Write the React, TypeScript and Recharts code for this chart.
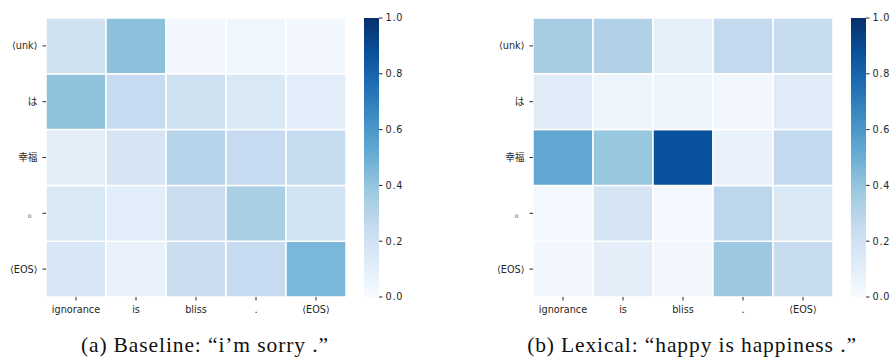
import { BarChart, Bar, Cell, XAxis, YAxis } from 'recharts';

const cols = ['ignorance', 'is', 'bliss', '.', '⟨EOS⟩'];
const rows = ['⟨unk⟩', 'は', '幸福', '。', '⟨EOS⟩'];

// attention weights, rows x cols
const baseline = [
    [0.2, 0.42, 0.03, 0.04, 0.03],
    [0.41, 0.25, 0.2, 0.15, 0.11],
    [0.1, 0.17, 0.3, 0.25, 0.24],
    [0.15, 0.11, 0.23, 0.34, 0.19],
    [0.16, 0.07, 0.23, 0.25, 0.46],
];
const lexical = [
    [0.35, 0.32, 0.09, 0.26, 0.24],
    [0.12, 0.05, 0.05, 0.03, 0.12],
    [0.53, 0.39, 0.87, 0.07, 0.26],
    [0.02, 0.17, 0.02, 0.28, 0.15],
    [0.03, 0.1, 0.03, 0.38, 0.24],
];
const rowTicks = [0.5, 1.5, 2.5, 3.5, 4.5];
const barTicks = [0, 0.2, 0.4, 0.6, 0.8, 1.0];

// matplotlib "Blues"
const blues = ['#f7fbff', '#deebf7', '#c6dbef', '#9ecae1', '#6baed6', '#4292c6', '#2171b5', '#08519c', '#08306b'];

function hex(c: string) {
    return [1, 3, 5].map((i) => parseInt(c.slice(i, i + 2), 16));
}

function blueAt(v: number) {
    const t = Math.max(0, Math.min(1, v)) * (blues.length - 1);
    const i = Math.min(Math.floor(t), blues.length - 2);
    const f = t - i;
    const a = hex(blues[i]);
    const b = hex(blues[i + 1]);
    const m = a.map((x, k) => Math.round(x + (b[k] - x) * f));
    return `rgb(${m[0]},${m[1]},${m[2]})`;
}

const FONT = '"DejaVu Sans", "Noto Sans CJK JP", sans-serif';
const tickFont = { fontFamily: FONT, fontSize: 9.7, fill: '#262626' };
const tickLine = { stroke: '#262626', strokeWidth: 1 };

function Heatmap({ matrix, left }: { matrix: number[][]; left: number }) {
    const data = cols.map((c) => {
        const d: Record<string, string | number> = { col: c };
        rows.forEach((_, i) => (d['r' + i] = 1));
        return d;
    });
    const order = [4, 3, 2, 1, 0];
    return (
        <div style={{ position: 'absolute', left, top: 0 }}>
            <BarChart width={360} height={320} data={data} margin={{ top: 18, right: 14, bottom: 0, left: 0 }} barCategoryGap={0}>
                <XAxis
                    dataKey="col"
                    height={23}
                    axisLine={false}
                    tickSize={3.5}
                    tickMargin={6}
                    tickLine={tickLine}
                    tick={tickFont}
                    interval={0}
                />
                <YAxis
                    type="number"
                    domain={[0, 5]}
                    ticks={rowTicks}
                    width={46}
                    axisLine={false}
                    tickSize={3.5}
                    tickMargin={5}
                    tickLine={tickLine}
                    tick={tickFont}
                    tickFormatter={(v: number) => rows[4 - Math.floor(v)]}
                    interval={0}
                />
                {order.map((i) => (
                    <Bar key={i} dataKey={'r' + i} stackId="cells" isAnimationActive={false} stroke="#fff" strokeWidth={1.5}>
                        {cols.map((c, j) => (
                            <Cell key={c} fill={blueAt(matrix[i][j])} />
                        ))}
                    </Bar>
                ))}
            </BarChart>
        </div>
    );
}

function Colorbar({ left, id }: { left: number; id: string }) {
    return (
        <div style={{ position: 'absolute', left, top: 0 }}>
            <BarChart width={55} height={315} data={[{ k: 'c', v: 1 }]} margin={{ top: 18, right: 0, bottom: 18, left: 0 }} barCategoryGap={0}>
                <defs>
                    <linearGradient id={id} x1="0" y1="1" x2="0" y2="0">
                        {blues.map((c, i) => (
                            <stop key={i} offset={i / (blues.length - 1)} stopColor={c} />
                        ))}
                    </linearGradient>
                </defs>
                <XAxis dataKey="k" hide />
                <YAxis
                    orientation="right"
                    type="number"
                    domain={[0, 1]}
                    ticks={barTicks}
                    width={40}
                    axisLine={false}
                    tickSize={3.5}
                    tickMargin={3}
                    tickLine={tickLine}
                    tick={{ ...tickFont, letterSpacing: 0.8 }}
                    tickFormatter={(v: number) => v.toFixed(1)}
                    interval={0}
                />
                <Bar dataKey="v" fill={`url(#${id})`} isAnimationActive={false} />
            </BarChart>
        </div>
    );
}

const captionStyle = {
    position: 'absolute' as const,
    top: 335,
    textAlign: 'center' as const,
    fontFamily: '"Liberation Serif", serif',
    fontSize: 21.5,
    lineHeight: '21px',
    letterSpacing: 0.9,
    color: '#111',
    whiteSpace: 'nowrap' as const,
};

export default function App() {
    return (
        <div
            style={{
                position: 'absolute',
                left: 0,
                top: 0,
                width: 891,
                height: 358,
                background: '#fff',
                overflow: 'hidden',
                fontFamily: FONT,
            }}
        >
            <Heatmap matrix={baseline} left={0} />
            <Colorbar left={364} id="bluesA" />
            <Heatmap matrix={lexical} left={487} />
            <Colorbar left={851} id="bluesB" />
            <div style={{ ...captionStyle, left: 0, width: 410 }}>
                <span style={{ marginRight: 6 }}>(a)</span>Baseline: “i’m sorry .”
            </div>
            <div style={{ ...captionStyle, left: 492, width: 400 }}>
                <span style={{ marginRight: 6 }}>(b)</span>Lexical: “happy is happiness .”
            </div>
        </div>
    );
}
